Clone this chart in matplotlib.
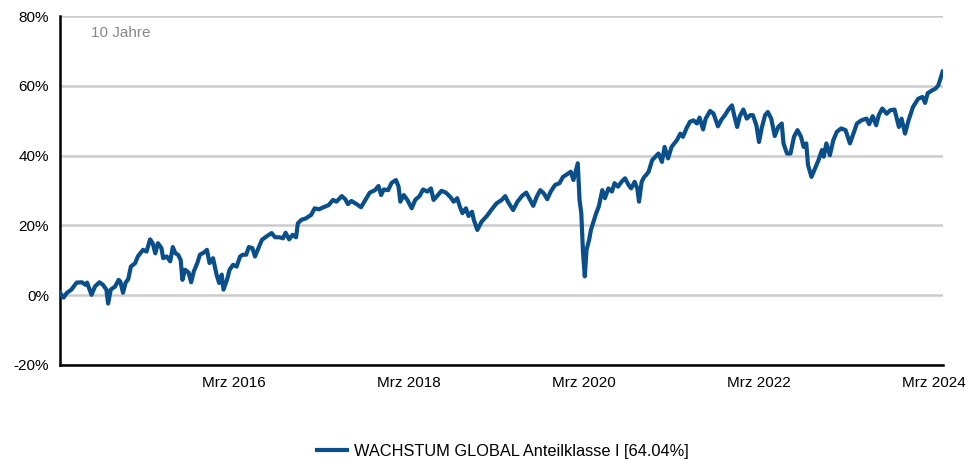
import matplotlib
matplotlib.use("Agg")
import matplotlib.pyplot as plt
import matplotlib.dates as mdates
import pandas as pd

# Wertentwicklung (in %) ueber 10 Jahre, x als Dezimaljahr
years = [
    2014.17, 2014.21, 2014.25, 2014.30, 2014.36, 2014.42, 2014.46, 2014.48, 2014.53, 2014.57,
    2014.62, 2014.66, 2014.70, 2014.72, 2014.75, 2014.80, 2014.84, 2014.86, 2014.89, 2014.92,
    2014.95, 2014.98, 2015.03, 2015.06, 2015.12, 2015.16, 2015.20, 2015.23, 2015.26, 2015.29,
    2015.33, 2015.35, 2015.39, 2015.43, 2015.46, 2015.49, 2015.52, 2015.55, 2015.57, 2015.60,
    2015.64, 2015.67, 2015.70, 2015.74, 2015.77, 2015.82, 2015.85, 2015.88, 2015.92, 2015.96,
    2015.99, 2016.02, 2016.04, 2016.08, 2016.11, 2016.15, 2016.19, 2016.23, 2016.26, 2016.30,
    2016.33, 2016.37, 2016.40, 2016.44, 2016.48, 2016.53, 2016.59, 2016.63, 2016.68, 2016.72,
    2016.75, 2016.79, 2016.83, 2016.87, 2016.89, 2016.93, 2016.98, 2017.04, 2017.08, 2017.13,
    2017.18, 2017.24, 2017.29, 2017.33, 2017.39, 2017.43, 2017.46, 2017.50, 2017.56, 2017.61,
    2017.66, 2017.71, 2017.77, 2017.81, 2017.84, 2017.87, 2017.92, 2017.96, 2018.01, 2018.04,
    2018.06, 2018.10, 2018.14, 2018.19, 2018.23, 2018.28, 2018.32, 2018.37, 2018.41, 2018.44,
    2018.48, 2018.53, 2018.58, 2018.63, 2018.67, 2018.71, 2018.74, 2018.77, 2018.81, 2018.84,
    2018.88, 2018.90, 2018.94, 2018.99, 2019.05, 2019.10, 2019.16, 2019.22, 2019.26, 2019.29,
    2019.35, 2019.40, 2019.45, 2019.50, 2019.54, 2019.58, 2019.62, 2019.66, 2019.70, 2019.74,
    2019.78, 2019.83, 2019.88, 2019.92, 2019.97, 2020.01, 2020.04, 2020.09, 2020.11, 2020.13,
    2020.15, 2020.17, 2020.19, 2020.22, 2020.24, 2020.27, 2020.30, 2020.33, 2020.37, 2020.40,
    2020.44, 2020.48, 2020.51, 2020.55, 2020.59, 2020.63, 2020.67, 2020.70, 2020.74, 2020.77,
    2020.79, 2020.82, 2020.85, 2020.87, 2020.90, 2020.94, 2021.01, 2021.05, 2021.08, 2021.12,
    2021.16, 2021.22, 2021.26, 2021.29, 2021.33, 2021.37, 2021.41, 2021.45, 2021.48, 2021.52,
    2021.55, 2021.60, 2021.64, 2021.69, 2021.73, 2021.77, 2021.81, 2021.85, 2021.88, 2021.91,
    2021.94, 2021.98, 2022.02, 2022.06, 2022.09, 2022.13, 2022.16, 2022.19, 2022.23, 2022.26,
    2022.30, 2022.34, 2022.38, 2022.42, 2022.44, 2022.48, 2022.52, 2022.56, 2022.60, 2022.64,
    2022.67, 2022.70, 2022.72, 2022.76, 2022.80, 2022.84, 2022.88, 2022.90, 2022.93, 2022.97,
    2023.01, 2023.05, 2023.10, 2023.15, 2023.20, 2023.24, 2023.28, 2023.33, 2023.39, 2023.42,
    2023.46, 2023.50, 2023.53, 2023.57, 2023.62, 2023.66, 2023.71, 2023.76, 2023.79, 2023.83,
    2023.87, 2023.92, 2023.98, 2024.03, 2024.06, 2024.09, 2024.14, 2024.18, 2024.21, 2024.23,
    2024.26,
]
perf = [
    0.7, -0.7, 0.7, 1.6, 3.6, 3.7, 3.0, 3.6, 0.1, 2.5,
    3.7, 3.0, 1.6, -2.4, 1.6, 2.5, 4.4, 3.9, 0.7, 3.6,
    4.6, 8.2, 9.2, 11.1, 13.0, 12.5, 16.0, 14.9, 12.0, 14.9,
    13.5, 10.6, 11.1, 9.7, 13.8, 12.0, 11.6, 10.1, 4.4, 7.3,
    6.5, 3.7, 6.8, 9.2, 11.6, 12.3, 13.0, 9.2, 10.6, 5.9,
    3.5, 5.9, 1.6, 4.4, 7.3, 8.7, 8.2, 11.1, 11.6, 11.6,
    13.8, 13.5, 11.1, 13.5, 15.9, 16.8, 17.8, 16.6, 16.6, 16.3,
    17.9, 16.0, 17.3, 16.6, 20.6, 21.6, 22.0, 23.0, 24.9, 24.6,
    25.2, 25.8, 27.3, 26.8, 28.4, 27.5, 26.1, 27.0, 26.1, 25.2,
    27.3, 29.4, 30.1, 31.3, 28.7, 30.3, 30.1, 32.2, 33.0, 31.1,
    26.8, 28.7, 27.3, 24.9, 27.3, 28.4, 30.3, 29.7, 30.6, 27.3,
    28.4, 29.9, 29.4, 28.2, 26.8, 27.8, 25.4, 23.5, 24.9, 22.7,
    23.9, 21.6, 18.7, 21.1, 22.7, 24.4, 26.3, 27.3, 28.4, 26.8,
    24.4, 26.8, 28.4, 29.4, 27.5, 25.6, 28.2, 30.1, 29.2, 27.5,
    29.7, 31.6, 32.1, 33.9, 34.7, 35.4, 33.0, 37.8, 27.3, 23.5,
    12.1, 5.4, 13.0, 15.9, 18.7, 21.1, 23.5, 25.4, 30.1, 27.8,
    30.6, 29.7, 32.1, 31.1, 32.5, 33.5, 31.6, 30.6, 32.5, 30.6,
    26.8, 32.5, 33.9, 34.4, 35.4, 38.7, 40.6, 38.2, 42.5, 39.2,
    42.5, 44.4, 46.3, 45.4, 47.8, 49.7, 50.1, 49.2, 50.9, 47.5,
    50.6, 52.8, 52.0, 48.4, 50.3, 51.6, 53.2, 54.4, 51.1, 48.2,
    51.3, 53.2, 50.6, 51.6, 51.6, 48.7, 43.9, 47.8, 51.6, 52.5,
    50.6, 45.6, 48.2, 49.2, 43.5, 40.6, 40.6, 45.4, 47.3, 45.4,
    42.5, 43.5, 37.3, 33.9, 36.3, 38.7, 41.6, 39.7, 43.5, 40.1,
    44.4, 46.8, 47.8, 47.3, 43.5, 46.3, 49.2, 50.1, 50.6, 49.0,
    51.3, 48.7, 51.6, 53.5, 52.0, 53.0, 53.2, 48.2, 50.6, 46.3,
    50.1, 53.9, 56.3, 56.8, 55.1, 57.9, 58.7, 59.2, 60.1, 61.6,
    64.04,
]

series_name = "WACHSTUM GLOBAL Anteilklasse I [64.04%]"
period_label = "10 Jahre"
y_ticks = [-20, 0, 20, 40, 60, 80]
x_tick_years = [2016, 2018, 2020, 2022, 2024]


def to_date(y):
    year = int(y)
    start = pd.Timestamp(year=year, month=1, day=1)
    return start + pd.Timedelta(days=(y - year) * 365.25)


dates = [to_date(y) for y in years]

plt.rcParams['font.family'] = ['Liberation Sans', 'DejaVu Sans']

fig = plt.figure(figsize=(9.71, 4.59), dpi=100)
ax = fig.add_axes([0.0618, 0.2048, 0.9094, 0.7603])

ax.plot(dates, perf, color='#0B4F8A', linewidth=3.0, solid_joinstyle='round',
        label=series_name, zorder=3)

ax.set_ylim(-20, 80)
ax.set_yticks(y_ticks)
ax.set_yticklabels([f"{v}%" for v in y_ticks])
ax.set_xlim(to_date(2014.17), to_date(2024.265))
ax.set_xticks([pd.Timestamp(year=y, month=3, day=1) for y in x_tick_years])
ax.xaxis.set_major_formatter(mdates.DateFormatter("Mrz %Y"))

ax.grid(axis='y', color='#cccccc', linewidth=1.8)
ax.set_axisbelow(True)
for s in ['top', 'right']:
    ax.spines[s].set_visible(False)
ax.spines['left'].set_linewidth(1.8)
ax.spines['bottom'].set_linewidth(1.8)
ax.tick_params(length=0, labelsize=11, colors='#000000', pad=8)

ax.text(0.035, 0.95, period_label, transform=ax.transAxes, color='#888888',
        fontsize=11, ha='left', va='center')

fig.legend(loc='center', bbox_to_anchor=(0.518, 0.017), frameon=False,
           fontsize=11.8, handlelength=1.8, handletextpad=0.45,
           borderpad=0, borderaxespad=0)

fig.savefig("out.png", dpi=100)
